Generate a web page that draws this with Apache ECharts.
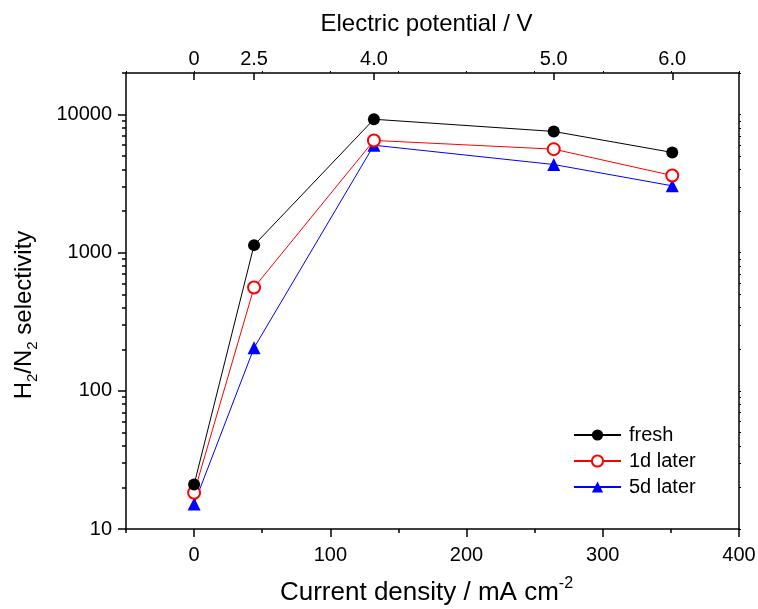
<!DOCTYPE html>
<html>
<head>
<meta charset="utf-8">
<script src="https://cdn.jsdelivr.net/npm/echarts@6/dist/echarts.min.js"></script>
<style>html,body{margin:0;padding:0;background:#fff}#c{width:758px;height:609px}</style>
</head>
<body>
<div id="c"></div>
<script>
// ---- data ----
var currentDensity = [0, 44, 132, 264, 351];          // mA cm-2
var potentialLabels = ['0', '2.5', '4.0', '5.0', '6.0']; // V, at the same x positions
var fresh   = [21, 1135, 9250, 7550, 5320];
var later1d = [18.3, 560, 6500, 5620, 3620];
var later5d = [15.2, 205, 6000, 4350, 3050];
var seriesNames = ['fresh', '1d later', '5d later'];

var xMajorTicks = [0, 100, 200, 300, 400];
var xMinorTicks = [-50, 50, 150, 250, 350];
var xMirrorTicks = [-50, 0, 50, 100, 150, 200, 250, 300, 350, 400];
var yMajorTicks = [10, 100, 1000, 10000];
var yMinorTicks = [20,30,40,50,60,70,80,90,200,300,400,500,600,700,800,900,
                   2000,3000,4000,5000,6000,7000,8000,9000,20000];
var xMin = -50, xMax = 400, yMin = 10, yMax = 20000;

function lg(v){ return Math.log10(v); }
function pairs(xs, ys){ return xs.map(function(x,i){ return [x, ys[i]]; }); }

var FONT = 'Liberation Sans, Arial, sans-serif';
var black = '#000';
var noLine = {show: false, onZero: false};

var chart = echarts.init(document.getElementById('c'), null, {renderer:'canvas'});
var option = {
  backgroundColor: '#fff',
  animation: false,
  textStyle: {fontFamily: FONT, color: black},
  grid: {left: 126, right: 19, top: 73, bottom: 80, containLabel: false, outerBoundsMode: 'none'},
  legend: {
    orient: 'vertical', left: 573, top: 425, padding: 0,
    itemWidth: 47, itemHeight: 14, itemGap: 6,
    textStyle: {fontSize: 20, fontFamily: FONT, color: black, padding: [0,0,0,3]},
    data: seriesNames
  },
  xAxis: [
    { // bottom: current density (data axis)
      type: 'value', position: 'bottom', min: xMin, max: xMax,
      axisLine: {show: true, onZero: false, lineStyle: {color: black, width: 1.5}},
      axisTick: {show: true, inside: false, length: 8, customValues: xMajorTicks,
                 lineStyle: {color: black, width: 1.5}},
      axisLabel: {fontSize: 20, margin: 16, color: black, fontFamily: FONT, customValues: xMajorTicks},
      splitLine: {show: false},
      name: 'Current density / mA cm{sup|-2}',
      nameLocation: 'middle', nameGap: 47,
      nameTextStyle: {fontSize: 26, lineHeight: 34, color: black, fontFamily: FONT,
        padding: [0, 12, 0, 0],
        rich: {sup: {fontSize: 16, lineHeight: 17, verticalAlign: 'top', fontFamily: FONT, color: black}}}
    },
    { // top: electric potential
      type: 'value', position: 'top', min: xMin, max: xMax,
      axisLine: {show: true, onZero: false, lineStyle: {color: black, width: 1.5}},
      axisTick: {show: true, inside: true, length: 7, customValues: currentDensity,
                 lineStyle: {color: black, width: 1.5}},
      axisLabel: {fontSize: 20, margin: 4, color: black, fontFamily: FONT,
                  customValues: currentDensity,
                  formatter: function(v){ var i = currentDensity.indexOf(v); return i >= 0 ? potentialLabels[i] : ''; }},
      splitLine: {show: false},
      name: 'Electric potential / V',
      nameLocation: 'middle', nameGap: 37,
      nameTextStyle: {fontSize: 24, color: black, fontFamily: FONT, padding: [0, 12, 0, 0]}
    },
    { // top mirror tiny ticks
      type: 'value', position: 'top', min: xMin, max: xMax,
      axisLine: noLine,
      axisTick: {show: true, inside: false, length: 2, customValues: xMirrorTicks, lineStyle: {color: black, width: 1}},
      axisLabel: {show: false}, splitLine: {show: false}
    },
    { // bottom minor ticks
      type: 'value', position: 'bottom', min: xMin, max: xMax,
      axisLine: noLine,
      axisTick: {show: true, inside: false, length: 4, customValues: xMinorTicks, lineStyle: {color: black, width: 1.5}},
      axisLabel: {show: false}, splitLine: {show: false}
    }
  ],
  yAxis: [
    { // data axis (log)
      type: 'log', logBase: 10, min: yMin, max: yMax, position: 'left',
      axisLine: {show: true, onZero: false, lineStyle: {color: black, width: 1.5}},
      axisTick: {show: false}, axisLabel: {show: false}, splitLine: {show: false},
      name: 'H{sub|2}/N{sub|2} selectivity',
      nameLocation: 'middle', nameGap: 86,
      nameTextStyle: {fontSize: 24, lineHeight: 32, color: black, fontFamily: FONT,
        padding: [0, 28, 0, 0],
        rich: {sub: {fontSize: 15, lineHeight: 16, verticalAlign: 'bottom', fontFamily: FONT, color: black}}}
    },
    { // major ticks + labels (log10 space, same extent)
      type: 'value', min: lg(yMin), max: lg(yMax), position: 'left',
      axisLine: noLine,
      axisTick: {show: true, inside: false, length: 8, customValues: yMajorTicks.map(lg),
                 lineStyle: {color: black, width: 1.5}},
      axisLabel: {fontSize: 20, margin: 14, color: black, fontFamily: FONT,
                  customValues: yMajorTicks.map(lg),
                  formatter: function(v){ return String(Math.round(Math.pow(10, v))); }},
      splitLine: {show: false}
    },
    { // minor ticks
      type: 'value', min: lg(yMin), max: lg(yMax), position: 'left',
      axisLine: noLine,
      axisTick: {show: true, inside: false, length: 4, customValues: yMinorTicks.map(lg),
                 lineStyle: {color: black, width: 1.5}},
      axisLabel: {show: false}, splitLine: {show: false}
    },
    { // right frame with tiny mirror ticks
      type: 'value', min: lg(yMin), max: lg(yMax), position: 'right',
      axisLine: {show: true, onZero: false, lineStyle: {color: black, width: 1.5}},
      axisTick: {show: true, inside: false, length: 2,
                 customValues: yMajorTicks.concat(yMinorTicks).map(lg),
                 lineStyle: {color: black, width: 1}},
      axisLabel: {show: false}, splitLine: {show: false}
    }
  ],
  series: [
    {name: seriesNames[0], type: 'line', xAxisIndex: 0, yAxisIndex: 0,
     data: pairs(currentDensity, fresh),
     symbol: 'circle', symbolSize: 12, showAllSymbol: true,
     lineStyle: {color: '#000000', width: 1}, itemStyle: {color: '#000000'}, z: 3},
    {name: seriesNames[1], type: 'line', xAxisIndex: 0, yAxisIndex: 0,
     data: pairs(currentDensity, later1d),
     symbol: 'emptyCircle', symbolSize: 12, showAllSymbol: true,
     lineStyle: {color: '#ff0000', width: 1},
     itemStyle: {color: '#ff0000', borderColor: '#ff0000', borderWidth: 1.2}, z: 2},
    {name: seriesNames[2], type: 'line', xAxisIndex: 0, yAxisIndex: 0,
     data: pairs(currentDensity, later5d),
     symbol: 'triangle', symbolSize: 13, showAllSymbol: true,
     lineStyle: {color: '#0000ff', width: 1}, itemStyle: {color: '#0000ff'}, z: 1}
  ]
};
chart.setOption(option);
</script>
</body>
</html>
